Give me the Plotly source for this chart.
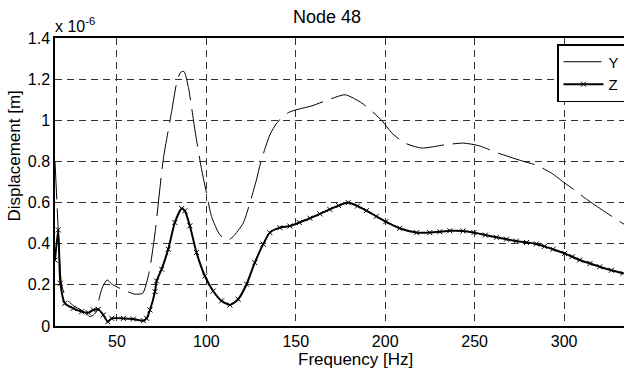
import plotly.graph_objects as go

# Frequency [Hz] and displacement [x 1e-6 m]
y_freq = [15.4, 16.7, 17.3, 18.4, 19.1, 20.9, 23.0, 26.0, 30.0, 33.0, 35.0, 37.0, 39.0,
          39.9, 42.0, 44.6, 47.0, 50.0, 53.0, 56.0, 60.0, 64.4, 68.0, 71.3, 75.9, 80.6,
          83.4, 85.6, 87.5, 89.9, 93.6, 97.4, 100.1, 102.9, 107.6, 112.2, 115.0, 120.6,
          128.0, 130.3, 135.5, 139.6, 146.0, 152.0, 159.0, 169.2, 177.6, 186.9, 198.1,
          203.7, 211.1, 220.4, 233.5, 243.7, 252.1, 263.3, 276.3, 284.1, 293.0, 300.5,
          305.2, 312.6, 322.0, 333.5]
y_disp = [0.80, 0.56, 0.45, 0.26, 0.20, 0.15, 0.12, 0.097, 0.078, 0.058, 0.045, 0.055, 0.075,
          0.127, 0.19, 0.224, 0.205, 0.19, 0.178, 0.167, 0.155, 0.159, 0.26, 0.451, 0.808, 1.043,
          1.181, 1.233, 1.237, 1.164, 0.954, 0.759, 0.646, 0.532, 0.443, 0.418, 0.435, 0.50,
          0.71, 0.792, 0.929, 0.989, 1.038, 1.055, 1.070, 1.103, 1.124, 1.084, 0.999,
          0.938, 0.889, 0.865, 0.881, 0.889, 0.877, 0.840, 0.803, 0.783, 0.743, 0.694,
          0.665, 0.616, 0.56, 0.495]

z_freq = [15.4, 17.2, 18.4, 20.9, 25.6, 30.3, 34.0, 36.8, 39.6, 42.4, 44.9, 47.1, 53.6,
          59.2, 64.8, 66.6, 68.5, 71.3, 72.2, 75.0, 78.7, 82.4, 86.2, 88.0, 90.8, 94.5,
          99.2, 103.8, 108.5, 113.2, 117.8, 122.5, 127.1, 131.8, 135.5, 141.1, 146.7,
          152.0, 157.9, 163.5, 169.0, 174.0, 179.3, 184.5, 189.5, 195.0, 200.3, 208.1,
          217.5, 224.9, 230.5, 236.1, 243.5, 249.6, 256.0, 262.2, 267.8, 273.3, 279.0,
          284.5, 289.0, 293.8, 300.3, 304.5, 308.7, 314.5, 319.9, 326.5, 332.9]
z_disp = [0.32, 0.467, 0.208, 0.11, 0.086, 0.07, 0.065, 0.078, 0.081, 0.054, 0.021, 0.037,
          0.037, 0.034, 0.026, 0.037, 0.078, 0.167, 0.219, 0.276, 0.373, 0.503, 0.571, 0.56,
          0.487, 0.357, 0.243, 0.17, 0.122, 0.102, 0.13, 0.203, 0.308, 0.398, 0.454, 0.478,
          0.486, 0.503, 0.524, 0.545, 0.567, 0.585, 0.600, 0.583, 0.561, 0.533, 0.507, 0.475,
          0.454, 0.454, 0.458, 0.463, 0.462, 0.454, 0.442, 0.431, 0.422, 0.413, 0.406,
          0.399, 0.387, 0.373, 0.353, 0.337, 0.321, 0.304, 0.288, 0.271, 0.256]

x_ticks = [50, 100, 150, 200, 250, 300]
y_ticks = [0, 0.2, 0.4, 0.6, 0.8, 1, 1.2, 1.4]
y_tick_text = ["0", "0.2", "0.4", "0.6", "0.8", "1", "1.2", "1.4"]

FONT = "Liberation Sans, Arial, sans-serif"

fig = go.Figure()
fig.add_trace(go.Scatter(
    x=y_freq, y=y_disp, name="Y", mode="lines",
    line=dict(color="black", width=1, dash="38px,9px", shape="spline", smoothing=0.6),
))
fig.add_trace(go.Scatter(
    x=z_freq, y=z_disp, name="Z", mode="lines+markers",
    line=dict(color="black", width=2, shape="spline", smoothing=0.6),
    marker=dict(symbol="x-thin", size=5, line=dict(color="black", width=1)),
))

fig.update_layout(
    width=624, height=372,
    margin=dict(l=55, r=0, t=38, b=46, autoexpand=False),
    paper_bgcolor="white", plot_bgcolor="white",
    font=dict(family=FONT, size=16, color="black"),
    showlegend=True,
    legend=dict(x=(557 - 55) / 569, y=(326 - 44) / 288, xanchor="left", yanchor="top",
                bgcolor="white", bordercolor="black", borderwidth=1.5,
                font=dict(family=FONT, size=15), tracegroupgap=0,
                itemwidth=40),
    xaxis=dict(range=[15.4, 333.5], tickvals=x_ticks, showline=True, linecolor="black",
               linewidth=1.5, mirror=True, showgrid=True, gridcolor="#333333",
               griddash="7px,5px", gridwidth=1, zeroline=False, ticks="",
               tickfont=dict(size=16)),
    yaxis=dict(range=[0, 1.4], tickvals=y_ticks, ticktext=y_tick_text, showline=True,
               linecolor="black", linewidth=1.5, showgrid=True, gridcolor="#333333",
               griddash="7px,5px", gridwidth=1, zeroline=False, ticks="",
               tickfont=dict(size=16)),
    annotations=[
        dict(text="Node 48", x=(327 - 55) / 569, y=1, xref="paper", yref="paper",
             xanchor="center", yanchor="middle", yshift=21, showarrow=False,
             font=dict(size=18)),
        dict(text="x 10<sup>-6</sup>", x=0, y=1, xref="paper", yref="paper", xanchor="left",
             yanchor="bottom", xshift=-2, yshift=1, showarrow=False, font=dict(size=16)),
        dict(text="Frequency [Hz]", x=(355 - 55) / 569, y=0, xref="paper", yref="paper",
             xanchor="center", yanchor="middle", yshift=-33, showarrow=False,
             font=dict(size=17)),
        dict(text="Displacement [m]", x=0, y=(326 - 156.5) / 288, xref="paper", yref="paper",
             xanchor="center", yanchor="middle", xshift=-41, textangle=-90,
             showarrow=False, font=dict(size=17)),
    ],
)

fig.write_html("out.html")
